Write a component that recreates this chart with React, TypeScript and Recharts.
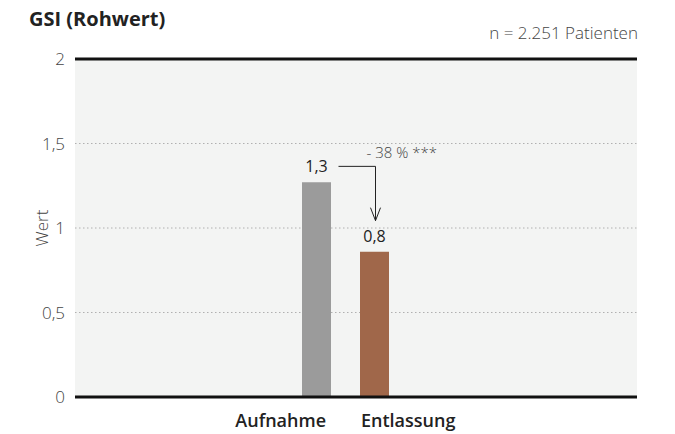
import { BarChart, Bar, Cell, XAxis, YAxis, CartesianGrid, ReferenceLine, LabelList } from "recharts";

const categories = ["Aufnahme", "Entlassung"];
const values = [1.27, 0.86];
const valueLabels = ["1,3", "0,8"];
const barColors = ["#9b9b9b", "#a0674a"];
const yTicks = [0, 0.5, 1, 1.5, 2];
const changeLabel = "- 38 % ***";

const data = categories.map((name, i) => ({ name, value: values[i] }));

const FONT = "'Open Sans', sans-serif";

const XTick = (props: any) => {
  const { x, y, payload, index } = props;
  const half = 14.5;
  return (
    <text
      x={index === 0 ? x + half - 4.5 : x - half + 1.5}
      y={y + 22}
      textAnchor={index === 0 ? "end" : "start"}
      fontFamily={FONT}
      fontSize={18}
      fontWeight={600}
      fill="#222"
    >
      {payload.value}
    </text>
  );
};

const BarLabel = (props: any) => {
  const { x, y, width, height, index } = props;
  const cx = x + width / 2;
  const text = (
    <text x={cx} y={y - 10} textAnchor="middle" fontFamily={FONT} fontSize={16} fill="#222">
      {valueLabels[index]}
    </text>
  );
  if (index !== 1) return text;
  // arrow from first value to second, positioned from this bar's scale
  const bottom = y + height;
  const ppu = height / values[1];
  const y0 = bottom - values[0] * ppu;
  const hy = y0 - 16;
  const tip = y - 31;
  return (
    <g>
      {text}
      <polyline
        points={`${x - 21.5},${hy} ${cx + 1},${hy} ${cx + 1},${tip}`}
        fill="none"
        stroke="#222"
        strokeWidth={1}
      />
      <polyline
        points={`${cx - 4},${tip - 13} ${cx + 1},${tip} ${cx + 6},${tip - 13}`}
        fill="none"
        stroke="#222"
        strokeWidth={1}
      />
      <text x={cx - 8} y={hy - 8} fontFamily={FONT} fontSize={15} fontWeight={300} fill="#444">
        {changeLabel}
      </text>
    </g>
  );
};

const WertLabel = (props: any) => {
  const { viewBox } = props;
  const x = viewBox.x + 41;
  const y = viewBox.y + viewBox.height / 2;
  return (
    <text
      x={x}
      y={y}
      transform={`rotate(-90, ${x}, ${y})`}
      textAnchor="middle"
      dominantBaseline="central"
      fontFamily={FONT}
      fontSize={17}
      fontWeight={300}
      fill="#444"
    >
      Wert
    </text>
  );
};

export default function App() {
  return (
    <div style={{ position: "absolute", left: 0, top: 0, width: 675, height: 434, background: "#fff" }}>
      <div
        style={{
          position: "absolute",
          left: 29,
          top: 5,
          fontFamily: FONT,
          fontWeight: 700,
          fontSize: 20,
          color: "#222",
          whiteSpace: "nowrap",
        }}
      >
        GSI (Rohwert)
      </div>
      <div
        style={{
          position: "absolute",
          right: 37,
          top: 21,
          fontFamily: FONT,
          fontWeight: 300,
          fontSize: 17,
          color: "#444",
          whiteSpace: "nowrap",
        }}
      >
        n = 2.251 Patienten
      </div>
      <BarChart width={675} height={434} data={data} margin={{ top: 59, right: 38, bottom: 0, left: 0 }}>
        <CartesianGrid vertical={false} fill="#f3f4f3" stroke="#b0b0b0" strokeDasharray="1.5 2.5" />
        <XAxis
          dataKey="name"
          height={37}
          axisLine={false}
          tickLine={false}
          padding={{ left: 212, right: 234 }}
          tick={<XTick />}
          interval={0}
        />
        <YAxis
          width={75}
          domain={[0, 2]}
          ticks={yTicks}
          axisLine={false}
          tickLine={false}
          tickMargin={4}
          tickFormatter={(v: number) => String(v).replace(".", ",")}
          tick={{ fontFamily: FONT, fontSize: 17, fontWeight: 300, fill: "#444" }}
          label={<WertLabel />}
        />
        <ReferenceLine y={2} stroke="#111" strokeWidth={3} />
        <ReferenceLine y={0} stroke="#111" strokeWidth={3} />
        <Bar dataKey="value" barSize={29} isAnimationActive={false}>
          {data.map((d, i) => (
            <Cell key={d.name} fill={barColors[i]} />
          ))}
          <LabelList dataKey="value" content={<BarLabel />} />
        </Bar>
      </BarChart>
    </div>
  );
}
